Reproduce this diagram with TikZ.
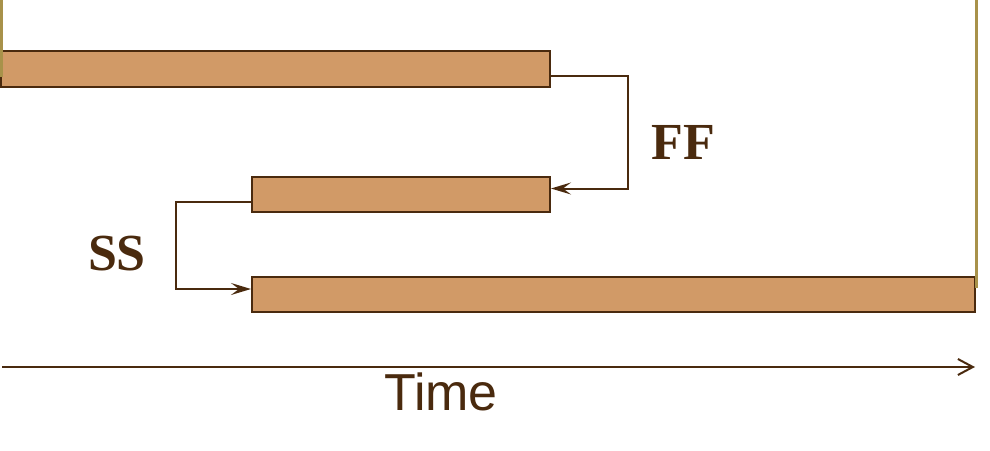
\documentclass[tikz,border=0pt]{standalone}
\usepackage{fontspec}
\setmainfont{Liberation Serif}
\setsansfont{Liberation Sans}
\usetikzlibrary{positioning,arrows.meta}
\definecolor{barfill}{HTML}{D19A67}
\definecolor{dkbrown}{HTML}{4A2A0E}
\definecolor{rimgold}{HTML}{A8924A}
\tikzset{
  bar/.style  = {rectangle, draw=dkbrown, fill=barfill, line width=1pt,
                 inner sep=0pt, anchor=north west, minimum height=17.5pt},
  link/.style = {-{Stealth[length=10pt, width=6pt, inset=4pt]}, line width=1pt, draw=dkbrown},
  axis/.style = {-{Straight Barb[length=7.5pt, width=8pt]}, line width=1pt, draw=dkbrown},
  dep/.style  = {font=\fontsize{26}{28}\selectfont\bfseries, text=dkbrown},
  rim/.style  = {draw=rimgold, line width=1.5pt},
}

\begin{document}
\begin{tikzpicture}[x=0.5pt, y=-0.5pt]
  \useasboundingbox (0,0) rectangle (990,450);

  % activity bars
  \node[bar, minimum width=274.5pt, minimum height=18pt] (top) at (0,50) {};
  \node[bar, minimum width=149pt] (mid) at (251,176) {};
  \node[bar, minimum width=361.5pt] (low) at (251,276) {};

  % frame edges
  \draw[rim] (1,0) -- (1,77);
  \draw[rim] (976,0) -- (976,288);

  % finish-to-finish and start-to-start links
  \draw[link] ([yshift=-3.5pt]top.east) -- ++(77,0) |- ([yshift=3pt]mid.east);
  \draw[link] ([yshift=-3.75pt]mid.west) -- ++(-75,0) |- ([yshift=2.75pt]low.west);
  \node[dep] (ff) at (683,142) {FF};
  \node[dep] (ss) at (117,254) {SS};

  % time axis
  \coordinate (t0) at (2,367);
  \coordinate (t1) at (975,367);
  \draw[axis] (t0) -- (t1);
  \node[font=\sffamily\fontsize{26}{28}\selectfont, text=dkbrown] (time) at (441,392) {Time};
\end{tikzpicture}
\end{document}
